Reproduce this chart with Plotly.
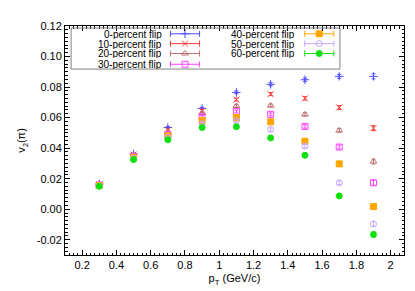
import plotly.graph_objects as go

pt = [0.3, 0.5, 0.7, 0.9, 1.1, 1.3, 1.5, 1.7, 1.9]

labels = ["0-percent flip", "10-percent flip", "20-percent flip", "30-percent flip",
          "40-percent flip", "50-percent flip", "60-percent flip"]

v2_0 = [0.0165, 0.0362, 0.0535, 0.0660, 0.0765, 0.0818, 0.0848, 0.0870, 0.0870]
v2_10 = [0.0163, 0.0358, 0.0520, 0.0645, 0.0718, 0.0754, 0.0726, 0.0666, 0.0531]
v2_20 = [0.0160, 0.0352, 0.0505, 0.0630, 0.0677, 0.0679, 0.0621, 0.0516, 0.0312]
v2_30 = [0.0158, 0.0346, 0.0490, 0.0605, 0.0640, 0.0621, 0.0542, 0.0407, 0.0173]
v2_40 = [0.0155, 0.0340, 0.0480, 0.0580, 0.0600, 0.0572, 0.0445, 0.0297, 0.0017]
v2_50 = [0.0152, 0.0333, 0.0470, 0.0560, 0.0580, 0.0522, 0.0413, 0.0173, -0.0097]
v2_60 = [0.0150, 0.0325, 0.0455, 0.0535, 0.0540, 0.0467, 0.0353, 0.0087, -0.0166]

err = [0.0005, 0.0006, 0.0007, 0.0008, 0.0009, 0.0010, 0.0011, 0.0013, 0.0016]

series = [v2_0, v2_10, v2_20, v2_30, v2_40, v2_50, v2_60]
colors = ["#4a4aff", "#ff3a3a", "#c07070", "#ff40ff", "#ffa500", "#c8a8ff", "#10e010"]
symbols = ["cross-thin", "x-thin", "triangle-up-open", "square-open", "square",
           "circle-open", "circle"]

x_ticks = [0.2, 0.4, 0.6, 0.8, 1.0, 1.2, 1.4, 1.6, 1.8, 2.0]
x_ticktext = ["0.2", "0.4", "0.6", "0.8", "1", "1.2", "1.4", "1.6", "1.8", "2"]
y_ticks = [-0.02, 0.0, 0.02, 0.04, 0.06, 0.08, 0.10, 0.12]
y_ticktext = ["-0.02", "0.00", "0.02", "0.04", "0.06", "0.08", "0.10", "0.12"]

fig = go.Figure()

for vals, col, sym, lab in zip(series, colors, symbols, labels):
    fig.add_trace(go.Scatter(
        x=pt, y=vals, mode="markers", name=lab, showlegend=False,
        marker=dict(symbol=sym, size=6, color=col,
                    line=dict(color=col, width=1)),
        error_y=dict(type="data", array=err, visible=True, color=col,
                     thickness=1, width=2),
    ))

# custom gnuplot-style key (text right-aligned, sample with bar on the right)
col_text_x = [0.289, 0.682]
col_samp_x = [0.354, 0.750]
row_y = [0.966, 0.923, 0.880, 0.833]
half = 0.043
for i, (col, sym, lab) in enumerate(zip(colors, symbols, labels)):
    c = 0 if i < 4 else 1
    r = i if i < 4 else i - 4
    fig.add_annotation(x=col_text_x[c], y=row_y[r], xref="paper", yref="paper",
                       text=lab, showarrow=False, xanchor="right", yanchor="middle",
                       height=10, valign="middle", borderpad=0,
                       font=dict(size=10, color="#000000"))
    fig.add_trace(go.Scatter(
        x=[col_samp_x[c]], y=[row_y[r]], xaxis="x2", yaxis="y2",
        mode="markers", showlegend=False, hoverinfo="skip",
        marker=dict(symbol=sym, size=6, color=col, line=dict(color=col, width=1)),
        error_x=dict(type="constant", value=half, visible=True, color=col,
                     thickness=1, width=3),
    ))

fig.add_shape(type="rect", xref="paper", yref="paper",
              x0=0.018, x1=0.811, y0=0.812, y1=0.991,
              line=dict(color="#808080", width=1), fillcolor="rgba(0,0,0,0)")

axis_common = dict(showgrid=False, zeroline=False, showline=True, linecolor="#000000",
                   linewidth=1, mirror="allticks", ticks="inside", ticklen=5,
                   tickcolor="#000000", tickfont=dict(size=11, color="#000000"))

fig.update_layout(
    width=415, height=291,
    margin=dict(l=57, r=19, t=13, b=44),
    paper_bgcolor="white", plot_bgcolor="white",
    font=dict(family="Liberation Sans, Arial, sans-serif", size=11, color="#000000"),
    xaxis=dict(range=[0.1, 2.078], tickvals=x_ticks, ticktext=x_ticktext,
               title=dict(text="p<sub>T</sub> (GeV/c)", standoff=4,
                          font=dict(size=11)),
               minor=dict(dtick=0.025, tick0=0, ticks="inside", ticklen=2.5,
                          tickcolor="#000000"),
               **axis_common),
    yaxis=dict(range=[-0.03, 0.12], tickvals=y_ticks, ticktext=y_ticktext,
               title=dict(text="v<sub>2</sub>(π)", standoff=8, font=dict(size=11)),
               minor=dict(dtick=0.0025, tick0=0, ticks="inside", ticklen=2.5,
                          tickcolor="#000000"),
               **axis_common),
    xaxis2=dict(range=[0, 1], overlaying="x", visible=False, fixedrange=True),
    yaxis2=dict(range=[0, 1], overlaying="y", visible=False, fixedrange=True),
)

fig.write_html("out.html")
